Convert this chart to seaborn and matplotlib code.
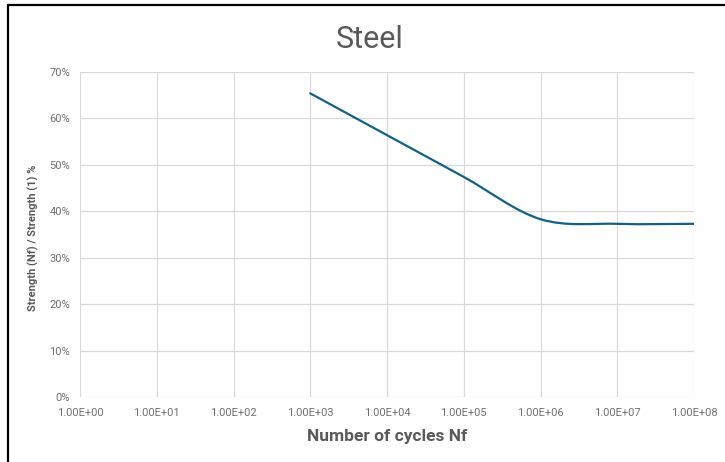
import numpy as np
import seaborn as sns
import matplotlib.pyplot as plt
from matplotlib.path import Path
from matplotlib.patches import PathPatch
from matplotlib.lines import Line2D

# data
cycles = [1e3, 1e4, 1e5, 1e6, 1e7, 1e8]
strength_ratio = [0.654, 0.564, 0.474, 0.383, 0.373, 0.373]

x_ticks = [1e0, 1e1, 1e2, 1e3, 1e4, 1e5, 1e6, 1e7, 1e8]
x_tick_labels = ["1.00E+00", "1.00E+01", "1.00E+02", "1.00E+03", "1.00E+04",
                 "1.00E+05", "1.00E+06", "1.00E+07", "1.00E+08"]
y_ticks = [0.0, 0.1, 0.2, 0.3, 0.4, 0.5, 0.6, 0.7]
y_tick_labels = ["0%", "10%", "20%", "30%", "40%", "50%", "60%", "70%"]

sns.set_theme(style="whitegrid")
plt.rcParams['font.family'] = ['Roboto', 'DejaVu Sans']

text_col = '#595959'
tick_col = '#707070'
grid_col = '#d9d9d9'
line_col = '#156082'

fig = plt.figure(figsize=(7.25, 4.62), dpi=100)
ax = fig.add_axes([80 / 725, 65 / 462, 614 / 725, 325 / 462])
ax.set_xscale('log')
ax.set_xlim(1, 1e8)
ax.set_ylim(0, 0.7)

# Excel style smoothed line: cubic bezier through the points (in log x space)
lx = np.log10(cycles)
ys = strength_ratio
n = len(cycles)
verts = [(cycles[0], ys[0])]
codes = [Path.MOVETO]
for i in range(n - 1):
    a = i - 1 if i > 0 else i
    b = i + 2 if i + 2 < n else i + 1
    c1 = (lx[i] + (lx[i + 1] - lx[a]) / 6, ys[i] + (ys[i + 1] - ys[a]) / 6)
    c2 = (lx[i + 1] - (lx[b] - lx[i]) / 6, ys[i + 1] - (ys[b] - ys[i]) / 6)
    verts += [(10 ** c1[0], c1[1]), (10 ** c2[0], c2[1]), (cycles[i + 1], ys[i + 1])]
    codes += [Path.CURVE4] * 3
ax.add_patch(PathPatch(Path(verts, codes), fill=False, edgecolor=line_col,
                       lw=1.6, capstyle='round', zorder=3))

ax.set_xticks(x_ticks)
ax.set_xticklabels(x_tick_labels)
ax.minorticks_off()
ax.set_yticks(y_ticks)
ax.set_yticklabels(y_tick_labels)
ax.tick_params(axis='x', length=0, labelsize=8, colors=tick_col, pad=8)
ax.tick_params(axis='y', length=0, labelsize=8, colors=tick_col, pad=7)
ax.grid(True, color=grid_col, lw=0.9)
sns.despine(ax=ax, left=True, bottom=True)
ax.set_xlabel('')
ax.set_ylabel('')

fig.text(370 / 725, 1 - 48 / 462, 'Steel', ha='center', va='baseline',
         fontsize=22, color=text_col)
fig.text(387 / 725, 1 - 436 / 462, 'Number of cycles Nf', ha='center', va='center',
         fontsize=12.5, fontweight='bold', color=text_col)
fig.text(33 / 725, 1 - 238 / 462, 'Strength (Nf) / Strength (1) %', ha='center',
         va='center', rotation=90, fontsize=8, fontweight='bold', color=text_col)

# black frame on top and left edges
fig.add_artist(Line2D([8 / 725, 1], [1 - 5 / 462, 1 - 5 / 462], color='black', lw=1.6))
fig.add_artist(Line2D([8 / 725, 8 / 725], [0, 1 - 5 / 462], color='black', lw=1.6))

fig.savefig('out.png', dpi=100, facecolor='white')
